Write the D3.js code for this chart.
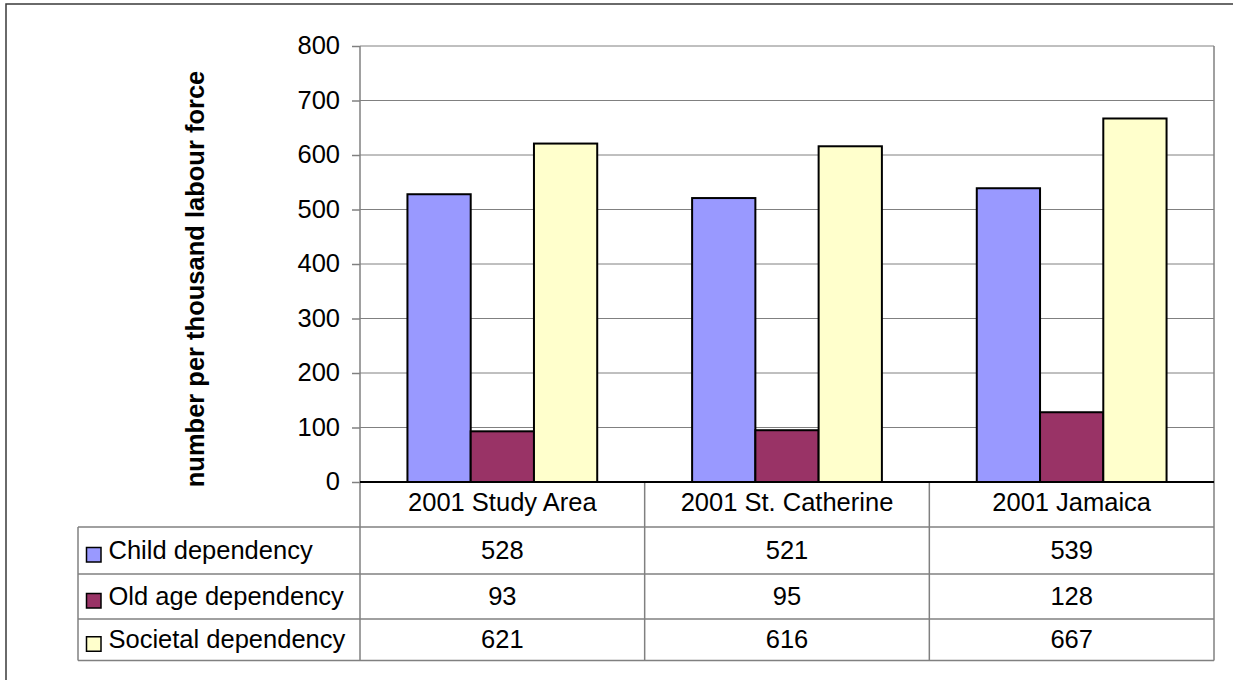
<!DOCTYPE html>
<html>
<head>
<meta charset="utf-8">
<script src="https://cdn.jsdelivr.net/npm/d3@7"></script>
<style>
  html, body { margin: 0; padding: 0; background: #fff; }
  svg { display: block; font-family: "Liberation Sans", Arial, sans-serif; }
</style>
</head>
<body>
<svg id="chart" width="1233" height="680"></svg>
<script>
// Dependency ratios, number per thousand labour force
const categories = ["2001 Study Area", "2001 St. Catherine", "2001 Jamaica"];
const seriesNames = ["Child dependency", "Old age dependency", "Societal dependency"];
const childValues = [528, 521, 539];
const oldAgeValues = [93, 95, 128];
const societalValues = [621, 616, 667];
const yTicks = [0, 100, 200, 300, 400, 500, 600, 700, 800];
const seriesColors = ["#9999FF", "#993366", "#FFFFCC"];

const seriesValues = [childValues, oldAgeValues, societalValues];

const svg = d3.select("#chart");
const fontSize = 25.5;

// Plot area and data table layout
const plot = { left: 360, right: 1214, top: 46, bottom: 482 };
const table = { left: 78, headerBottom: 527, rowH: [47, 45, 41.5] };
const rowTops = [table.headerBottom];
table.rowH.forEach((h, i) => rowTops.push(rowTops[i] + h));
const tableBottom = rowTops[rowTops.length - 1];

// Outer chart frame
svg.append("rect")
  .attr("x", 6).attr("y", 4)
  .attr("width", 1260).attr("height", 720)
  .attr("fill", "#fff")
  .attr("stroke", "#3a3a3a").attr("stroke-width", 1.5);

const x0 = d3.scaleBand().domain(categories).range([plot.left, plot.right]).padding(0);
const x1 = d3.scaleBand().domain(seriesNames).range([0, x0.bandwidth()])
  .paddingInner(0).paddingOuter(0.75);
const y = d3.scaleLinear().domain([0, 800]).range([plot.bottom, plot.top]);

// Gridlines
svg.append("g").selectAll("line").data(yTicks.filter(d => d > 0)).join("line")
  .attr("x1", plot.left).attr("x2", plot.right)
  .attr("y1", d => y(d)).attr("y2", d => y(d))
  .attr("stroke", "#808080").attr("stroke-width", 1);

// Y axis with ticks on the left
const yAxis = svg.append("g")
  .attr("transform", `translate(${plot.left},0)`)
  .call(d3.axisLeft(y).tickValues(yTicks).tickSize(8).tickPadding(12));
yAxis.select(".domain").remove();
yAxis.selectAll(".tick line").attr("stroke", "#808080").attr("stroke-width", 1.5);
yAxis.selectAll(".tick text")
  .attr("font-size", fontSize)
  .attr("font-family", "'Liberation Sans', Arial, sans-serif")
  .attr("fill", "#000")
  .attr("dy", "0.3em");

// Bars
const groups = svg.append("g").selectAll("g").data(categories).join("g")
  .attr("transform", d => `translate(${x0(d)},0)`);
groups.selectAll("rect")
  .data((c, ci) => seriesNames.map((s, si) => ({ s, si, v: seriesValues[si][ci] })))
  .join("rect")
  .attr("x", d => x1(d.s))
  .attr("width", x1.bandwidth())
  .attr("y", d => y(d.v))
  .attr("height", d => y(0) - y(d.v))
  .attr("fill", d => seriesColors[d.si])
  .attr("stroke", "#000").attr("stroke-width", 2);

// Data table grid
const grid = svg.append("g").attr("stroke", "#808080").attr("stroke-width", 1.5).attr("fill", "none");
// plot right border and y axis line running through the table
grid.append("line").attr("x1", plot.right).attr("x2", plot.right).attr("y1", plot.top).attr("y2", tableBottom);
grid.append("line").attr("x1", plot.left).attr("x2", plot.left).attr("y1", plot.top).attr("y2", tableBottom);
// category separators
categories.slice(1).forEach(c => {
  grid.append("line").attr("x1", x0(c)).attr("x2", x0(c)).attr("y1", plot.bottom).attr("y2", tableBottom);
});
// left edge of legend column
grid.append("line").attr("x1", table.left).attr("x2", table.left).attr("y1", table.headerBottom).attr("y2", tableBottom);
// horizontal rules
rowTops.forEach(yy => {
  grid.append("line").attr("x1", table.left).attr("x2", plot.right).attr("y1", yy).attr("y2", yy);
});

// Zero baseline
svg.append("line")
  .attr("x1", plot.left).attr("x2", plot.right)
  .attr("y1", y(0)).attr("y2", y(0))
  .attr("stroke", "#000").attr("stroke-width", 2);

// Category header labels
svg.append("g").selectAll("text").data(categories).join("text")
  .attr("x", d => x0(d) + x0.bandwidth() / 2)
  .attr("y", 511)
  .attr("text-anchor", "middle")
  .attr("font-size", fontSize)
  .text(d => d);

// Table values and legend keys
seriesNames.forEach((name, si) => {
  const top = rowTops[si];
  const h = table.rowH[si];
  const base = top + h / 2 + 8.5;
  svg.append("rect")
    .attr("x", 86.5).attr("y", base - 11.5)
    .attr("width", 14.5).attr("height", 14.5)
    .attr("fill", seriesColors[si])
    .attr("stroke", "#000").attr("stroke-width", 1.5);
  svg.append("text")
    .attr("x", 108.5).attr("y", base)
    .attr("font-size", fontSize)
    .text(name);
  svg.append("g").selectAll("text").data(categories).join("text")
    .attr("x", d => x0(d) + x0.bandwidth() / 2)
    .attr("y", base)
    .attr("text-anchor", "middle")
    .attr("font-size", fontSize)
    .text((d, ci) => seriesValues[si][ci]);
});

// Y axis title
svg.append("text")
  .attr("transform", `translate(204,${(plot.top + plot.bottom) / 2 + 15}) rotate(-90)`)
  .attr("text-anchor", "middle")
  .attr("font-size", fontSize)
  .attr("font-weight", "bold")
  .text("number per thousand labour force");
</script>
</body>
</html>
